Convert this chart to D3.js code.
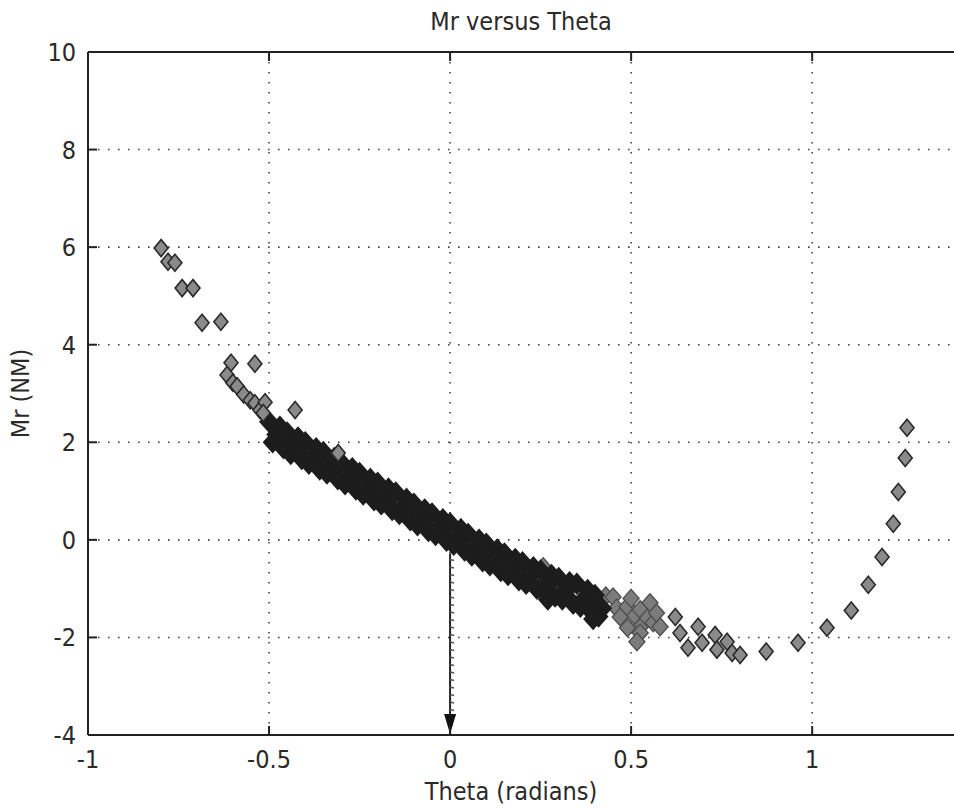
<!DOCTYPE html>
<html>
<head>
<meta charset="utf-8">
<script src="https://cdn.jsdelivr.net/npm/d3@7"></script>
<style>
  body { margin: 0; background: #fff; }
  text { font-family: "DejaVu Sans Condensed", "DejaVu Sans", sans-serif; font-stretch: condensed; fill: #2a2a2a; }
</style>
</head>
<body>
<div id="container"></div>
<script>
/* CONSTANTS AND GLOBALS */
const width = 954,
  height = 809,
  margin = { top: 52, bottom: 74, left: 88, right: -3 };

const xTicks = [-1, -0.5, 0, 0.5, 1];
const yTicks = [-4, -2, 0, 2, 4, 6, 8, 10];

// scattered diamonds on the upper left branch
const leftPoints = [
  [-0.798, 5.98], [-0.779, 5.70], [-0.760, 5.68], [-0.740, 5.16], [-0.710, 5.16],
  [-0.685, 4.45], [-0.633, 4.47], [-0.605, 3.63], [-0.539, 3.61],
  [-0.616, 3.38], [-0.600, 3.22], [-0.588, 3.15], [-0.570, 2.98], [-0.552, 2.86],
  [-0.539, 2.80], [-0.525, 2.66], [-0.511, 2.82], [-0.516, 2.60], [-0.428, 2.66],
  [-0.309, 1.78]
];

// the dense dark band through the origin
const bandPoints = [
  [-0.50, 2.42], [-0.49, 2.00], [-0.48, 2.16], [-0.47, 2.32], [-0.46, 1.88], [-0.45, 2.20],
  [-0.44, 1.76], [-0.43, 1.94], [-0.42, 2.10], [-0.41, 1.66], [-0.40, 2.00], [-0.39, 1.56],
  [-0.38, 1.72], [-0.37, 1.88], [-0.36, 1.44], [-0.35, 1.80], [-0.34, 1.36], [-0.33, 1.52],
  [-0.32, 1.68], [-0.31, 1.24], [-0.30, 1.58], [-0.29, 1.14], [-0.28, 1.30], [-0.27, 1.47],
  [-0.26, 1.03], [-0.25, 1.37], [-0.24, 0.93], [-0.23, 1.09], [-0.22, 1.25], [-0.21, 0.81],
  [-0.20, 1.17], [-0.19, 0.73], [-0.18, 0.89], [-0.17, 1.05], [-0.16, 0.61], [-0.15, 0.97],
  [-0.14, 0.53], [-0.13, 0.68], [-0.12, 0.84], [-0.11, 0.40], [-0.10, 0.74], [-0.09, 0.30],
  [-0.08, 0.46], [-0.07, 0.62], [-0.06, 0.18], [-0.05, 0.54], [-0.04, 0.10], [-0.03, 0.26],
  [-0.02, 0.42], [-0.01, -0.02], [0.00, 0.34], [0.01, -0.10], [0.02, 0.06], [0.03, 0.22],
  [0.04, -0.22], [0.05, 0.12], [0.06, -0.32], [0.07, -0.16], [0.08, 0.00], [0.09, -0.44],
  [0.10, -0.08], [0.11, -0.52], [0.12, -0.36], [0.13, -0.20], [0.14, -0.64], [0.15, -0.28],
  [0.16, -0.72], [0.17, -0.56], [0.18, -0.39], [0.19, -0.83], [0.20, -0.46], [0.21, -0.90],
  [0.22, -0.73], [0.23, -0.56], [0.24, -1.00], [0.25, -0.63], [0.26, -1.07], [0.27, -0.90],
  [0.27, -1.22], [0.28, -0.72], [0.29, -1.16], [0.30, -0.78], [0.31, -1.22], [0.32, -1.05],
  [0.33, -0.87], [0.34, -1.31], [0.35, -0.90], [0.36, -1.37], [0.37, -1.20], [0.38, -1.03],
  [0.39, -1.47], [0.40, -1.13], [0.41, -1.57], [0.42, -1.40], [0.395, -1.62]
];

// lighter diamonds where the band fades out
const fadePoints = [
  [0.257, -0.55], [0.43, -1.15], [0.45, -1.17], [0.46, -1.40], [0.47, -1.58], [0.489, -1.37],
  [0.50, -1.20], [0.51, -1.55], [0.525, -1.43], [0.53, -1.75], [0.552, -1.29], [0.545, -1.60],
  [0.561, -1.70], [0.525, -1.91], [0.516, -2.09], [0.58, -1.78], [0.57, -1.50], [0.49, -1.80]
];

// the right branch turning back up
const rightPoints = [
  [0.622, -1.58], [0.635, -1.91], [0.657, -2.21], [0.685, -1.78], [0.696, -2.11],
  [0.732, -1.95], [0.737, -2.25], [0.765, -2.09], [0.779, -2.32], [0.801, -2.36],
  [0.873, -2.29], [0.961, -2.11], [1.041, -1.80], [1.108, -1.45], [1.155, -0.92],
  [1.193, -0.35], [1.224, 0.33], [1.238, 0.98], [1.257, 1.68], [1.262, 2.30]
];

// arrow drawn down the zero line
const arrowTheta = 0, arrowFrom = -0.28, arrowTo = -4;

/* SCALES */
const xScale = d3.scaleLinear()
  .domain([-1, 1.4])
  .range([margin.left, width - margin.right]);

const yScale = d3.scaleLinear()
  .domain([-4, 10])
  .range([height - margin.bottom, margin.top]);

const svg = d3.select("#container")
  .append("svg")
  .attr("width", width)
  .attr("height", height);

const x0 = xScale.range()[0], x1 = xScale.range()[1];
const yTop = yScale.range()[1], yBot = yScale.range()[0];

// + GRID (dotted)
svg.append("g")
  .selectAll("line")
  .data(xTicks.filter(d => d > -1))
  .join("line")
  .attr("x1", d => xScale(d)).attr("x2", d => xScale(d))
  .attr("y1", yTop).attr("y2", yBot)
  .attr("stroke", "#444")
  .attr("stroke-width", 1.6)
  .attr("stroke-dasharray", "1.6,8.4");

svg.append("g")
  .selectAll("line")
  .data(yTicks.filter(d => d > -4 && d < 10))
  .join("line")
  .attr("x1", x0).attr("x2", x1)
  .attr("y1", d => yScale(d)).attr("y2", d => yScale(d))
  .attr("stroke", "#444")
  .attr("stroke-width", 1.6)
  .attr("stroke-dasharray", "1.6,8.4");

// diamond marker
function diamond(w, h) {
  return d => {
    const cx = xScale(d[0]), cy = yScale(d[1]);
    return `M${cx},${cy - h}L${cx + w},${cy}L${cx},${cy + h}L${cx - w},${cy}Z`;
  };
}

function drawPoints(data, w, h, fill, stroke, sw) {
  svg.append("g")
    .selectAll("path")
    .data(data)
    .join("path")
    .attr("d", diamond(w, h))
    .attr("fill", fill)
    .attr("stroke", stroke)
    .attr("stroke-width", sw);
}

drawPoints(fadePoints, 8, 9, "#7c7c7c", "#505050", 1.4);
drawPoints(bandPoints, 8, 9, "#1d1d1d", "#1d1d1d", 3);
drawPoints(leftPoints, 7, 8.5, "#8a8a8a", "#2a2a2a", 1.6);
drawPoints(rightPoints, 7, 8.5, "#8a8a8a", "#2a2a2a", 1.6);

// + ARROW
const ax = xScale(arrowTheta);
const ay1 = yScale(arrowFrom), ay2 = yScale(arrowTo);
svg.append("line")
  .attr("x1", ax).attr("x2", ax)
  .attr("y1", ay1).attr("y2", ay2)
  .attr("stroke", "#222")
  .attr("stroke-width", 2);

svg.append("g")
  .selectAll("line")
  .data(d3.range(ay1 + 6, ay2 - 22, 7.5))
  .join("line")
  .attr("x1", ax).attr("x2", ax + 4)
  .attr("y1", d => d).attr("y2", d => d + 1)
  .attr("stroke", "#555")
  .attr("stroke-width", 1.4);

svg.append("path")
  .attr("d", `M${ax - 6},${ay2 - 21}L${ax + 6},${ay2 - 21}L${ax},${ay2 - 1}Z`)
  .attr("fill", "#111");

// + AXES (box, inward ticks)
svg.append("line")
  .attr("x1", x0).attr("x2", x1).attr("y1", yTop).attr("y2", yTop)
  .attr("stroke", "#222").attr("stroke-width", 2);
svg.append("line")
  .attr("x1", x0).attr("x2", x1).attr("y1", yBot).attr("y2", yBot)
  .attr("stroke", "#222").attr("stroke-width", 2);
svg.append("line")
  .attr("x1", x0).attr("x2", x0).attr("y1", yTop).attr("y2", yBot)
  .attr("stroke", "#222").attr("stroke-width", 2);

xTicks.forEach(t => {
  svg.append("line")
    .attr("x1", xScale(t)).attr("x2", xScale(t))
    .attr("y1", yBot).attr("y2", yBot - 9)
    .attr("stroke", "#222").attr("stroke-width", 2);
  svg.append("line")
    .attr("x1", xScale(t)).attr("x2", xScale(t))
    .attr("y1", yTop).attr("y2", yTop + 9)
    .attr("stroke", "#222").attr("stroke-width", 2);
});
yTicks.forEach(t => {
  svg.append("line")
    .attr("x1", x0).attr("x2", x0 + 9)
    .attr("y1", yScale(t)).attr("y2", yScale(t))
    .attr("stroke", "#222").attr("stroke-width", 2);
});

// tick labels
svg.append("g")
  .selectAll("text")
  .data(xTicks)
  .join("text")
  .attr("x", d => xScale(d))
  .attr("y", yBot + 33)
  .attr("text-anchor", "middle")
  .attr("font-size", 25)
  .text(d => d);

svg.append("g")
  .selectAll("text")
  .data(yTicks)
  .join("text")
  .attr("x", x0 - 12)
  .attr("y", d => yScale(d) + 9)
  .attr("text-anchor", "end")
  .attr("font-size", 25)
  .text(d => d);

// titles
svg.append("text")
  .attr("x", 521)
  .attr("y", 30)
  .attr("text-anchor", "middle")
  .attr("font-size", 25)
  .text("Mr versus Theta");

svg.append("text")
  .attr("x", 511)
  .attr("y", 800)
  .attr("text-anchor", "middle")
  .attr("font-size", 25)
  .text("Theta (radians)");

svg.append("text")
  .attr("transform", `translate(29, ${(yTop + yBot) / 2}) rotate(-90)`)
  .attr("text-anchor", "middle")
  .attr("font-size", 25)
  .text("Mr (NM)");
</script>
</body>
</html>
